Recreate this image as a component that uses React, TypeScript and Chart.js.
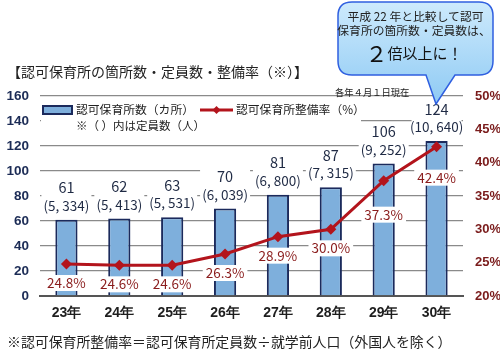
import React, { useEffect, useRef } from "react";
import { Chart, registerables } from "chart.js";
Chart.register(...registerables);

const years = ["23年", "24年", "25年", "26年", "27年", "28年", "29年", "30年"];
const facilities = [61, 62, 63, 70, 81, 87, 106, 124];
const capacities = [5334, 5413, 5531, 6039, 6800, 7315, 9252, 10640];
const rates = [24.8, 24.6, 24.6, 26.3, 28.9, 30.0, 37.3, 42.4];

const LEFT_MIN = 0, LEFT_MAX = 160, LEFT_STEP = 20;
const RIGHT_MIN = 20, RIGHT_MAX = 50, RIGHT_STEP = 5;

const JP = '"Noto Sans CJK JP", "Noto Sans", sans-serif';
const NUM = '"Liberation Sans", Arial, sans-serif';
const BAR_FILL = "#7eafdc";
const BAR_EDGE = "#1b2a5c";
const LINE_RED = "#b3141c";
const RATE_TEXT = "#8a1c1c";
const LABEL_TEXT = "#1f2a44";
const RATE_LABEL_GAP = [19, 19, 19, 19, 19, 19, 34, 31];

const fmtCap = (n: number) => "(" + n.toLocaleString("en-US").replace(",", ", ") + ")";

const labelPlugin = {
  id: "customLabels",
  beforeDatasetsDraw(chart: any) {
    const ctx = chart.ctx as CanvasRenderingContext2D;
    ctx.save();
    ctx.fillStyle = "#fff";
    ctx.fillRect(41, 100, 320, 34);
    const bars = chart.getDatasetMeta(0).data;
    bars.forEach((el: any) => {
      ctx.fillRect(el.x - 25, el.y - 40, 50, 35);
    });
    // legend
    ctx.fillStyle = BAR_FILL;
    ctx.strokeStyle = BAR_EDGE;
    ctx.lineWidth = 2;
    ctx.fillRect(43, 106, 29, 8);
    ctx.strokeRect(43, 106, 29, 8);
    ctx.strokeStyle = LINE_RED;
    ctx.lineWidth = 3;
    ctx.beginPath();
    ctx.moveTo(200, 110);
    ctx.lineTo(233, 110);
    ctx.stroke();
    ctx.fillStyle = LINE_RED;
    ctx.beginPath();
    ctx.moveTo(216.5, 106);
    ctx.lineTo(220.5, 110);
    ctx.lineTo(216.5, 114);
    ctx.lineTo(212.5, 110);
    ctx.closePath();
    ctx.fill();
    ctx.fillStyle = "#222";
    ctx.textBaseline = "middle";
    ctx.textAlign = "left";
    ctx.font = `11.8px ${JP}`;
    ctx.fillText("認可保育所数（カ所）", 76, 110);
    ctx.fillText("認可保育所整備率（%）", 236, 110);
    ctx.font = `11.5px ${JP}`;
    ctx.fillText("※（ ）内は定員数（人）", 76, 126);
    ctx.restore();
  },
  afterDatasetsDraw(chart: any) {
    const ctx = chart.ctx as CanvasRenderingContext2D;
    ctx.save();
    ctx.textAlign = "center";
    ctx.textBaseline = "middle";
    const bars = chart.getDatasetMeta(0).data;
    bars.forEach((el: any, i: number) => {
      ctx.fillStyle = LABEL_TEXT;
      ctx.font = `14.5px ${JP}`;
      ctx.fillText(String(facilities[i]), el.x, el.y - 32);
      ctx.font = `13.5px ${JP}`;
      ctx.fillText(fmtCap(capacities[i]), el.x, el.y - 14);
    });
    const pts = chart.getDatasetMeta(1).data;
    ctx.font = `13.5px ${JP}`;
    pts.forEach((el: any, i: number) => {
      const txt = rates[i].toFixed(1) + "%";
      const w = ctx.measureText(txt).width + 6;
      const y = el.y + RATE_LABEL_GAP[i];
      ctx.fillStyle = "#fff";
      ctx.fillRect(el.x - w / 2, y - 8, w, 16);
      ctx.fillStyle = RATE_TEXT;
      ctx.fillText(txt, el.x, y);
    });
    ctx.restore();
  },
};

export default function App() {
  const ref = useRef<HTMLCanvasElement>(null);
  useEffect(() => {
    const chart = new Chart(ref.current!, {
      type: "bar",
      data: {
        labels: years,
        datasets: [
          {
            type: "bar",
            label: "認可保育所数（カ所）",
            data: facilities,
            backgroundColor: BAR_FILL,
            borderColor: BAR_EDGE,
            borderWidth: 2,
            barPercentage: 0.42,
            categoryPercentage: 1,
            yAxisID: "y",
            order: 2,
          } as any,
          {
            type: "line",
            label: "認可保育所整備率（%）",
            data: rates,
            borderColor: LINE_RED,
            backgroundColor: LINE_RED,
            borderWidth: 3,
            pointStyle: "rectRot",
            pointRadius: 5.5,
            pointBorderWidth: 0,
            pointBackgroundColor: LINE_RED,
            tension: 0,
            yAxisID: "y1",
            order: 1,
          } as any,
        ],
      },
      options: {
        responsive: false,
        animation: false,
        devicePixelRatio: 1,
        layout: { padding: { top: 96, left: 0, right: 0, bottom: 0 } },
        plugins: { legend: { display: false }, tooltip: { enabled: false } },
        scales: {
          x: {
            grid: { display: false, drawTicks: false },
            border: { display: true, color: "#555", width: 2 },
            ticks: { color: "#1e1e1e", font: { family: NUM, size: 14, weight: "bold" }, padding: 9 },
            afterFit: (s: any) => { s.height = 56; },
          },
          y: {
            position: "left",
            min: LEFT_MIN,
            max: LEFT_MAX,
            ticks: { stepSize: LEFT_STEP, color: "#1b2b55", font: { family: NUM, size: 13.5, weight: "bold" }, padding: 11 },
            grid: { color: "#8a8a8a", lineWidth: 1.3, drawTicks: false },
            border: { display: false },
            afterFit: (s: any) => { s.width = 40; },
          },
          y1: {
            position: "right",
            min: RIGHT_MIN,
            max: RIGHT_MAX,
            ticks: {
              stepSize: RIGHT_STEP,
              color: "#7a1b1b",
              font: { family: NUM, size: 13, weight: "bold" },
              padding: 12,
              callback: (v: any) => v + "%",
            },
            grid: { display: false, drawTicks: false },
            border: { display: false },
            afterFit: (s: any) => { s.width = 37; },
          },
        },
      },
      plugins: [labelPlugin],
    });
    return () => chart.destroy();
  }, []);

  return (
    <div style={{ position: "fixed", left: 0, top: 0, width: 500, height: 352, background: "#fff", overflow: "hidden" }}>
      <canvas ref={ref} width={500} height={352} style={{ position: "absolute", left: 0, top: 0 }} />
      <div style={{ position: "absolute", left: 7, top: 62, fontFamily: JP, fontSize: 14, lineHeight: "18px", color: "#222", whiteSpace: "nowrap" }}>
        【認可保育所の箇所数・定員数・整備率（※）】
      </div>
      <div style={{ position: "absolute", left: 335, top: 86, fontFamily: JP, fontSize: 9.3, lineHeight: "12px", color: "#222", whiteSpace: "nowrap" }}>
        各年４月１日現在
      </div>
      <svg width={500} height={120} style={{ position: "absolute", left: 0, top: 0 }}>
        <defs>
          <linearGradient id="bub" x1="0" y1="0" x2="0" y2="1">
            <stop offset="0" stopColor="#cdeafc" />
            <stop offset="1" stopColor="#8fcaf4" />
          </linearGradient>
        </defs>
        <path
          d="M352 2 H479 Q493 2 493 16 V61 Q493 75 479 75 H455 L436 104 L426 75 H352 Q338 75 338 61 V16 Q338 2 352 2 Z"
          fill="url(#bub)"
          stroke="#2f5fe0"
          strokeWidth={1.5}
        />
        <text x={415.5} y={15.5} textAnchor="middle" dominantBaseline="central" fontFamily={JP} fontSize={11.8} fill="#222">平成 22 年と比較して認可</text>
        <text x={414} y={29.5} textAnchor="middle" dominantBaseline="central" fontFamily={JP} fontSize={11.8} fill="#222">保育所の箇所数・定員数は、</text>
        <text x={414} y={52} textAnchor="middle" dominantBaseline="central" fontFamily={JP} fill="#111">
          <tspan fontSize={22}>２</tspan>
          <tspan fontSize={15}>倍以上に！</tspan>
        </text>
      </svg>
      <div style={{ position: "absolute", left: 7, top: 332, fontFamily: JP, fontSize: 13.9, lineHeight: "18px", color: "#222", whiteSpace: "nowrap" }}>
        ※認可保育所整備率＝認可保育所定員数÷就学前人口（外国人を除く）
      </div>
    </div>
  );
}
